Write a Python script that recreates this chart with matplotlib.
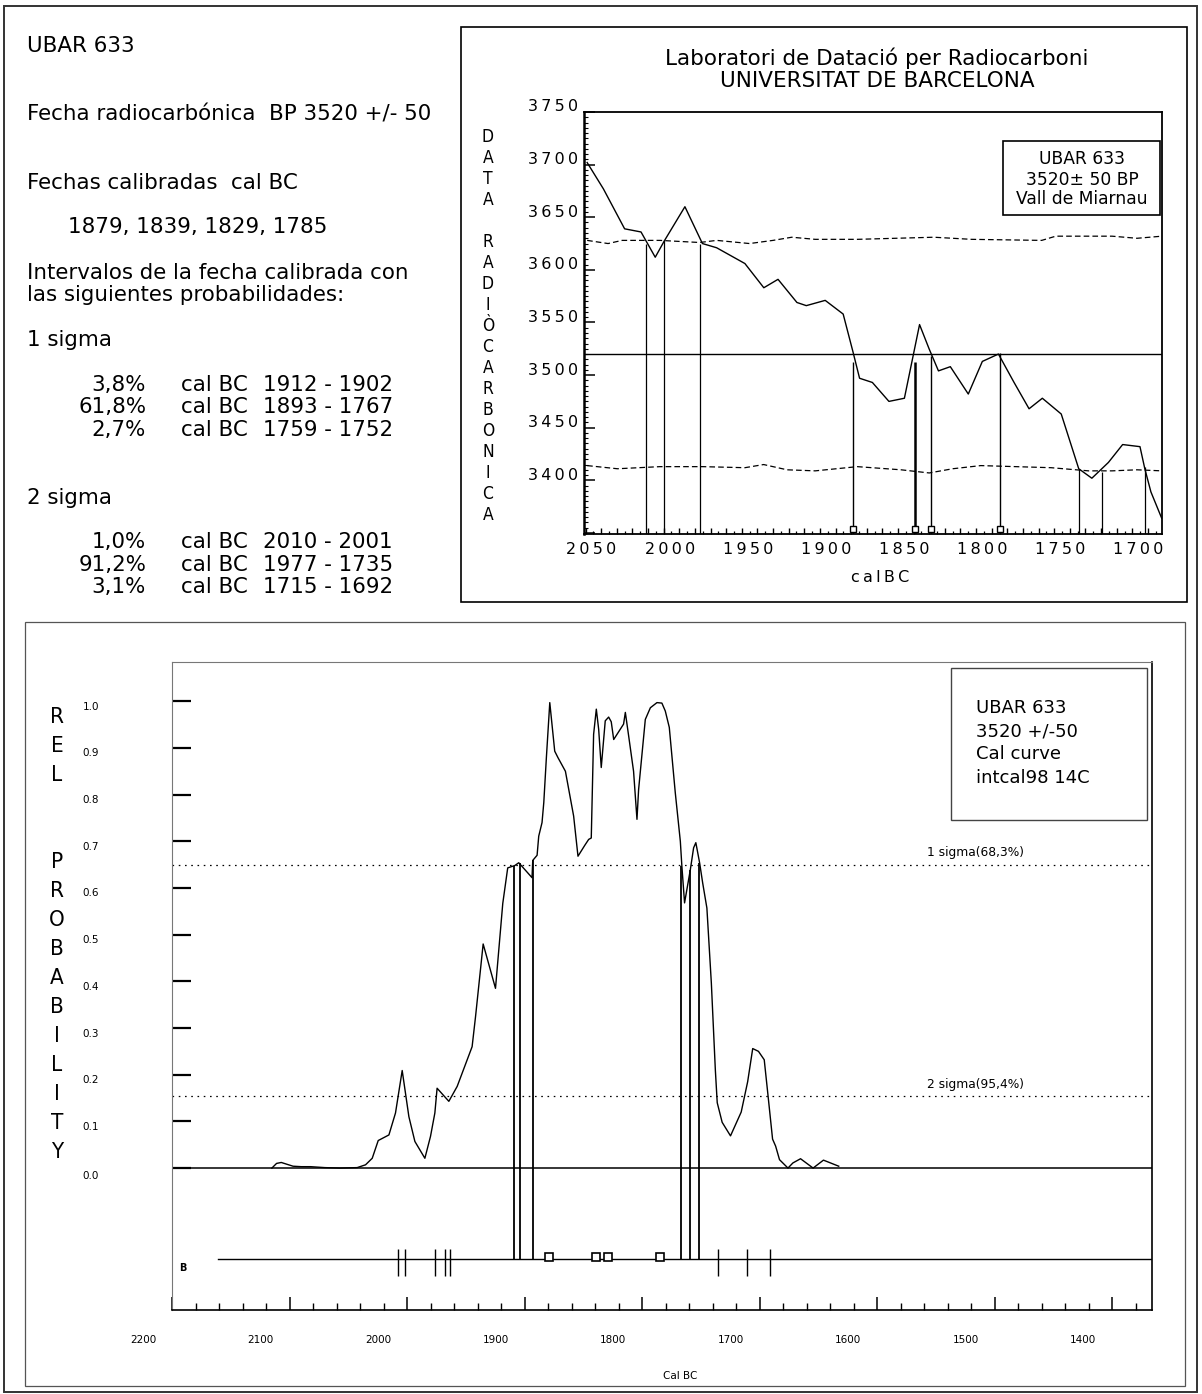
import matplotlib
matplotlib.use('Agg')
import matplotlib.pyplot as plt
import matplotlib.transforms as mtransforms
from matplotlib.patches import Rectangle
from matplotlib.ticker import MultipleLocator, FixedLocator

plt.rcParams['font.family'] = ['DejaVu Sans']

# ---------------- data ----------------
sample = 'UBAR 633'
bp_date = 3520
bp_err = 50
intercepts = [1879, 1839, 1829, 1785]

sigma1_pct = ['3,8%', '61,8%', '2,7%']
sigma1_ranges = ['1912 - 1902', '1893 - 1767', '1759 - 1752']
sigma2_pct = ['1,0%', '91,2%', '3,1%']
sigma2_ranges = ['2010 - 2001', '1977 - 1735', '1715 - 1692']

# calibration curve (top chart), cal BC vs BP
cal_years = [2049, 2038.6, 2025, 2014.5, 2005.4, 1999.4, 1986.4, 1975.2, 1966.1, 1948,
             1935.9, 1926.8, 1914.7, 1908.7, 1896.6, 1885.1, 1878.8, 1874.6, 1866.4, 1855.8,
             1845.9, 1836.2, 1830.1, 1824.1, 1816.5, 1805, 1796, 1785.7, 1775.7, 1766.1,
             1757.6, 1745.5, 1734.3, 1725.9, 1715.3, 1706.2, 1695.1, 1692, 1688.1, 1681.2]
cal_bp = [3702, 3677, 3639, 3636, 3612, 3628, 3660, 3625, 3621, 3606,
          3583, 3591, 3569, 3566, 3571, 3558, 3522, 3497, 3493, 3475,
          3478, 3548, 3525, 3504, 3508, 3482, 3513, 3520, 3493, 3468,
          3478, 3463, 3411, 3402, 3417, 3434, 3432, 3411, 3389, 3364]

upper_years = [2049, 2035.6, 2026.6, 2002.4, 1977, 1966, 1945, 1930, 1918, 1903,
               1876, 1827, 1803, 1758, 1749, 1713, 1697, 1681]
upper_bp = [3628, 3625, 3628, 3628, 3626, 3628, 3625, 3628, 3631, 3629,
            3629, 3631, 3629, 3628, 3632, 3632, 3630, 3632]
lower_years = [2049, 2029.6, 2002.4, 1975, 1948, 1936, 1921, 1903, 1876, 1848,
               1830, 1815, 1797, 1752, 1728, 1713, 1697, 1681]
lower_bp = [3414, 3411, 3413, 3413, 3412, 3415, 3410, 3409, 3413, 3410,
            3407, 3411, 3414, 3412, 3409, 3409, 3410, 3409]

range_years_top = [2011, 2000, 1977, 1734.3, 1719.2, 1692]
range_tops_top = [3625, 3628, 3625, 3411, 3408, 3413]
intercept_tops = [3512, 3512, 3518, 3521]

# relative probability (bottom chart)
prob_years = [2115, 2111, 2107, 2102, 2097, 2090, 2082, 2070, 2057, 2042.4,
              2035.3, 2029.6, 2024.5, 2015.4, 2009.8, 2004.1, 1998.4, 1993.3, 1984.8, 1980.0,
              1976.3, 1974.4, 1964.4, 1957.3, 1944.6, 1941.7, 1935.2, 1924.7, 1918.5, 1914.3, 1908.3,
              1904.9, 1893.6, 1893.0, 1889.3, 1887.9, 1885.1, 1883.6, 1881.4, 1878.5, 1874.3,
              1871.5, 1865.2, 1858.2, 1854.5, 1848.8, 1845.4, 1843.2, 1841.2, 1838.9, 1836.9,
              1834.7, 1831.3, 1828.4, 1826.2, 1824.1, 1821.3, 1815.7, 1814.2, 1811.4, 1807.2,
              1804.3, 1802.9, 1797.2, 1792.9, 1787.3, 1783.1, 1780.2, 1776.8, 1771.7, 1767.4,
              1766.1, 1763.8, 1758.9, 1756.1, 1754.2, 1751.0, 1748.4, 1744.8, 1741.0, 1737.6,
              1736.0, 1731.8, 1724.7, 1715.6, 1710.1, 1705.8, 1700.9, 1696.0, 1692.8, 1688.9,
              1686.3, 1683.0, 1675.8, 1671.6, 1665.1, 1654.4, 1645.6, 1632.6]
prob_vals = [0.000, 0.010, 0.012, 0.008, 0.004, 0.003, 0.003, 0.001, 0.000, 0.001,
             0.007, 0.021, 0.059, 0.071, 0.118, 0.209, 0.110, 0.057, 0.021, 0.068,
             0.118, 0.171, 0.143, 0.175, 0.260, 0.324, 0.480, 0.385, 0.567, 0.643, 0.648,
             0.654, 0.622, 0.659, 0.670, 0.711, 0.740, 0.783, 0.879, 0.997, 0.893,
             0.879, 0.850, 0.754, 0.668, 0.691, 0.704, 0.707, 0.929, 0.983, 0.940,
             0.858, 0.958, 0.966, 0.956, 0.918, 0.929, 0.951, 0.976, 0.926, 0.850,
             0.747, 0.811, 0.961, 0.986, 0.997, 0.996, 0.979, 0.944, 0.804, 0.700,
             0.647, 0.568, 0.639, 0.686, 0.697, 0.654, 0.611, 0.557, 0.396, 0.210,
             0.140, 0.098, 0.069, 0.120, 0.185, 0.256, 0.250, 0.232, 0.156, 0.062,
             0.047, 0.018, 0.000, 0.011, 0.020, 0.000, 0.017, 0.004]

sigma1_level = 0.65
sigma2_level = 0.155
sig1_years = [1908.6, 1903.5, 1893.0, 1767.0, 1758.8, 1751.4]
sig1_tops = [0.648, 0.654, 0.659, 0.647, 0.639, 0.654]
strip_years = [2007.5, 2002, 1976, 1968, 1963, 1735, 1711, 1691]
prob_ticks = [0.0, 0.1, 0.2, 0.3, 0.4, 0.5, 0.6, 0.7, 0.8, 0.9, 1.0]
year_ticks_bottom = [2200, 2100, 2000, 1900, 1800, 1700, 1600, 1500, 1400]
year_ticks_top = [2050, 2000, 1950, 1900, 1850, 1800, 1750, 1700]
bp_ticks = [3400, 3450, 3500, 3550, 3600, 3650, 3700, 3750]

# ---------------- figure ----------------
W, H = 1202, 1394
fig = plt.figure(figsize=(W / 100, H / 100), dpi=100)
fig.patch.set_facecolor('white')


def fx(x):
    return x / W


def fy(y):
    return 1 - y / H


def fig_box(x0, y0, x1, y1, lw, ec):
    fig.add_artist(Rectangle((fx(x0), fy(y1)), (x1 - x0) / W, (y1 - y0) / H,
                             transform=fig.transFigure, fill=False, lw=lw, ec=ec))


def spaced(s):
    return '\u2009'.join(str(s))


def offset(dx, dy):
    return mtransforms.ScaledTranslation(dx / 100, dy / 100, fig.dpi_scale_trans)


# outer frames
fig_box(4, 6, 1197, 1392, 1.4, '#333333')
fig_box(461, 27, 1187, 602, 1.2, 'black')
fig_box(25, 622, 1185, 1386, 0.9, '#555555')

# ---------------- left text block ----------------
TXT = 15.4
fig.text(fx(27), fy(46), sample, fontsize=TXT, va='center')
fig.text(fx(27), fy(114), f'Fecha radiocarbónica  BP {bp_date} +/- {bp_err}', fontsize=TXT, va='center')
fig.text(fx(27), fy(183), 'Fechas calibradas  cal BC', fontsize=TXT, va='center')
fig.text(fx(68), fy(227), ', '.join(str(v) for v in intercepts), fontsize=TXT, va='center')
fig.text(fx(27), fy(273), 'Intervalos de la fecha calibrada con', fontsize=TXT, va='center')
fig.text(fx(27), fy(295), 'las siguientes probabilidades:', fontsize=TXT, va='center')
fig.text(fx(27), fy(340), '1 sigma', fontsize=TXT, va='center')
fig.text(fx(27), fy(498), '2 sigma', fontsize=TXT, va='center')

for rows, y0 in ((zip(sigma1_pct, sigma1_ranges), 385), (zip(sigma2_pct, sigma2_ranges), 542.5)):
    for i, (p, r) in enumerate(rows):
        y = y0 + i * 22.5
        fig.text(fx(146), fy(y), p, fontsize=TXT, va='center', ha='right')
        fig.text(fx(181), fy(y), 'cal BC', fontsize=TXT, va='center')
        fig.text(fx(263), fy(y), r, fontsize=TXT, va='center')

# ---------------- top chart ----------------
fig.text(fx(877), fy(58), 'Laboratori de Datació per Radiocarboni', fontsize=15.5,
         ha='center', va='center')
fig.text(fx(877), fy(81), 'UNIVERSITAT DE BARCELONA', fontsize=15.5, ha='center', va='center')

ax1 = fig.add_axes([fx(584), fy(534), (1162 - 584) / W, (534 - 112) / H])
ax1.set_xlim(2051, 1681)
ax1.set_ylim(3349, 3750)
ax1.plot(cal_years, cal_bp, color='black', lw=1.0)
ax1.plot(upper_years, upper_bp, color='black', lw=0.9, ls=(0, (4.5, 2.5)))
ax1.plot(lower_years, lower_bp, color='black', lw=0.9, ls=(0, (4.5, 2.5)))
ax1.axhline(bp_date, color='black', lw=1.0)
ax1.vlines(range_years_top, 3349, range_tops_top, color='black', lw=0.9)
ax1.vlines(intercepts, 3349, intercept_tops, color='black', lw=[1.0, 1.8, 1.0, 1.0])
ax1.plot(intercepts, [3354] * len(intercepts), 's', mfc='white', mec='black', ms=4.2, mew=1.0)

ax1.xaxis.set_major_locator(MultipleLocator(10))
ax1.xaxis.set_minor_locator(MultipleLocator(5))
ax1.yaxis.set_major_locator(MultipleLocator(50))
ax1.yaxis.set_minor_locator(MultipleLocator(5))
ax1.tick_params(which='major', axis='x', direction='in', length=4.5, width=1)
ax1.tick_params(which='minor', axis='x', direction='in', length=2.5, width=0.9)
ax1.tick_params(which='major', axis='y', direction='in', length=8, width=1.1)
ax1.tick_params(which='minor', axis='y', direction='in', length=2.8, width=0.8)
ax1.tick_params(labelbottom=False, labelleft=False)
for s in ax1.spines.values():
    s.set_linewidth(1.3)
ax1.spines['left'].set_linewidth(1.8)

tr_x1 = mtransforms.blended_transform_factory(ax1.transData, fig.transFigure) + offset(6, 0)
for v in year_ticks_top:
    ax1.text(v, fy(549), spaced(v), transform=tr_x1, fontsize=11.5, ha='center', va='center',
             clip_on=False)
tr_y1 = mtransforms.blended_transform_factory(fig.transFigure, ax1.transData) + offset(0, 5)
for v in bp_ticks:
    ax1.text(fx(578), v, spaced(v), transform=tr_y1, fontsize=11.5, ha='right', va='center',
             clip_on=False)
fig.text(fx(880), fy(577), spaced('calBC'), fontsize=11.5, ha='center', va='center')

for i, ch in enumerate('DATA RADIÒCARBONICA'):
    if ch != ' ':
        fig.text(fx(488), fy(137 + i * 21.0), ch, fontsize=12.5, ha='center', va='center',
                 fontstretch='condensed')

fig_box(1003, 141, 1160, 215, 1.2, 'black')
for txt, y in ((sample, 159), (f'{bp_date}\u00b1 {bp_err} BP', 180), ('Vall de Miarnau', 199)):
    fig.text(fx(1082), fy(y), txt, fontsize=12.3, ha='center', va='center')

# ---------------- bottom chart ----------------
ax2 = fig.add_axes([fx(172), fy(1310), (1152 - 172) / W, (1310 - 662) / H])
ax2.set_xlim(2200, 1366)
ax2.set_ylim(-0.304, 1.084)
ax2.plot(prob_years, prob_vals, color='black', lw=1.0)
ax2.axhline(0, color='black', lw=1.1)
ax2.axhline(sigma1_level, color='black', lw=0.9, ls=(0, (1.3, 3.7)))
ax2.axhline(sigma2_level, color='black', lw=0.9, ls=(0, (1.3, 3.7)))
ax2.text(1516, 0.677, '1 sigma(68,3%)', fontsize=8.8, ha='center', va='center')
ax2.text(1516, 0.180, '2 sigma(95,4%)', fontsize=8.8, ha='center', va='center')

strip_y = -0.195
ax2.plot([2161, 1366], [strip_y, strip_y], color='black', lw=1.0)
ax2.vlines(strip_years, -0.231, -0.173, color='black', lw=1.0)
ax2.vlines(sig1_years, strip_y, sig1_tops, color='black', lw=1.3)
ax2.plot(intercepts, [-0.190] * len(intercepts), 's', mfc='white', mec='black', ms=5.5, mew=1.2)
fig.text(fx(183), fy(1268), 'B', fontsize=7, fontweight='bold', ha='center', va='center')

ax2.xaxis.set_major_locator(MultipleLocator(100))
ax2.xaxis.set_minor_locator(MultipleLocator(20))
ax2.yaxis.set_major_locator(FixedLocator(prob_ticks))
ax2.tick_params(which='major', axis='x', direction='in', length=9.5, width=1.1)
ax2.tick_params(which='minor', axis='x', direction='in', length=5, width=1.0)
ax2.tick_params(which='major', axis='y', direction='in', length=14, width=1.6)
ax2.tick_params(labelbottom=False, labelleft=False)
ax2.spines['top'].set_color('#777777')
ax2.spines['top'].set_linewidth(0.8)
ax2.spines['left'].set_color('#777777')
ax2.spines['left'].set_linewidth(0.8)
ax2.spines['right'].set_linewidth(1.2)
ax2.spines['bottom'].set_linewidth(1.2)

tr_x2 = mtransforms.blended_transform_factory(ax2.transData, fig.transFigure) + offset(-29, 0)
for v in year_ticks_bottom:
    ax2.text(v, fy(1340), str(v), transform=tr_x2, fontsize=7.5, ha='center', va='center',
             clip_on=False)
for v in prob_ticks:
    tr = mtransforms.blended_transform_factory(fig.transFigure, ax2.transData) + \
        offset(0, -8 if v == 0 else -5.5)
    ax2.text(fx(91), v, f'{v:.1f}', transform=tr, fontsize=7.5, ha='center', va='center',
             clip_on=False)
fig.text(fx(680), fy(1376), 'Cal BC', fontsize=7.5, ha='center', va='center')

for i, ch in enumerate('REL  PROBABILITY'):
    if ch != ' ':
        fig.text(fx(57), fy(717 + i * 29.0), ch, fontsize=16, ha='center', va='center',
                 fontstretch='condensed')

fig_box(951, 668, 1147, 820, 1.0, '#444444')
for txt, y in ((sample, 708), (f'{bp_date} +/-{bp_err}', 731.7), ('Cal curve', 754),
               ('intcal98 14C', 777.7)):
    fig.text(fx(976), fy(y), txt, fontsize=13, ha='left', va='center')

fig.savefig('out.png', dpi=100, facecolor='white')
